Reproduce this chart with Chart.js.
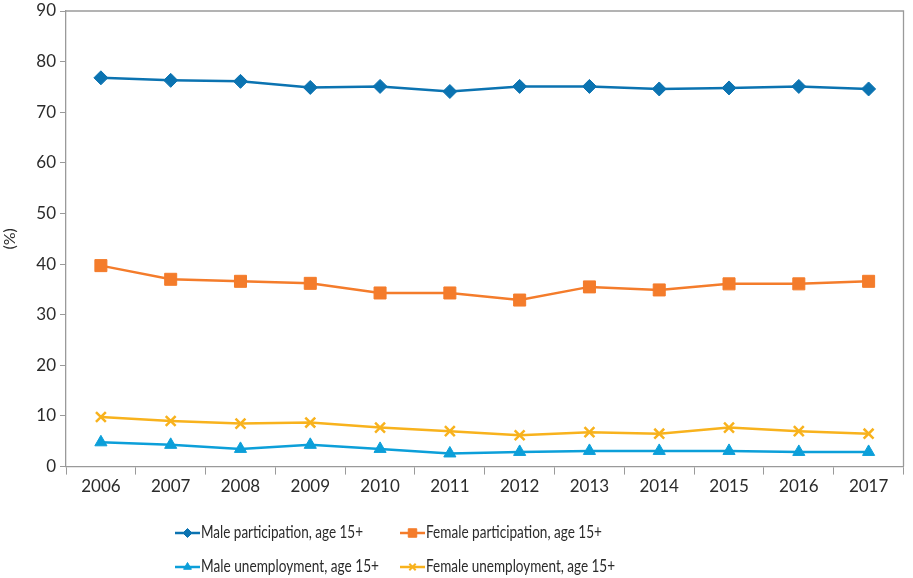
<!DOCTYPE html>
<html>
<head>
<meta charset="utf-8">
<script src="https://cdn.jsdelivr.net/npm/chart.js@4.4.0/dist/chart.umd.min.js"></script>
<style>
  html, body { margin: 0; padding: 0; background: #fff; }
  #wrap { width: 913px; height: 578px; }
</style>
</head>
<body>
<div id="wrap"><canvas id="grafik"></canvas></div>
<script>
// data
var tahun = ["2006", "2007", "2008", "2009", "2010", "2011", "2012", "2013", "2014", "2015", "2016", "2017"];
var male_participation = [76.8, 76.3, 76.1, 74.9, 75.1, 74.1, 75.1, 75.1, 74.6, 74.8, 75.1, 74.6];
var female_participation = [39.7, 37.0, 36.6, 36.2, 34.3, 34.3, 32.9, 35.5, 34.9, 36.1, 36.1, 36.6];
var male_unemployment = [4.8, 4.3, 3.5, 4.3, 3.5, 2.6, 2.9, 3.1, 3.1, 3.1, 2.9, 2.9];
var female_unemployment = [9.8, 9.0, 8.5, 8.7, 7.7, 7.0, 6.2, 6.8, 6.5, 7.7, 7.0, 6.5];
var y_ticks = [0, 10, 20, 30, 40, 50, 60, 70, 80, 90];

const FONT = "Lato, 'Open Sans', sans-serif";
const AXIS = "#9a9a9a";

function seri(label, data, warna, bentuk, r) {
  return {
    label: label,
    data: data,
    borderColor: warna,
    backgroundColor: warna,
    pointBackgroundColor: warna,
    pointBorderColor: warna,
    pointBorderWidth: bentuk === "crossRot" ? 2.5 : 1,
    pointStyle: bentuk,
    pointRadius: r,
    borderWidth: 2.5,
    tension: 0,
    fill: false,
  };
}

const data = {
  labels: tahun,
  datasets: [
    seri("Male participation, age 15+", male_participation, "#0b73b1", "rectRot", 7),
    seri("Female participation, age 15+", female_participation, "#f47c2b", "rect", 8.5),
    seri("Male unemployment, age 15+", male_unemployment, "#0c9fd9", "triangle", 7),
    seri("Female unemployment, age 15+", female_unemployment, "#f8b21d", "crossRot", 7),
  ],
};

// bingkai area plot + legenda manual 2 kolom
const pluginBingkai = {
  id: "bingkai",
  afterDraw(chart) {
    const ctx = chart.ctx;
    const a = chart.chartArea;
    ctx.save();
    ctx.strokeStyle = AXIS;
    ctx.lineWidth = 1.3;
    ctx.beginPath();
    ctx.moveTo(a.left, a.top);
    ctx.lineTo(a.right, a.top);
    ctx.lineTo(a.right, a.bottom);
    ctx.stroke();

    // posisi x, y, lebar teks maksimum (font di gambar asli lebih sempit)
    const posisi = [[175, 533, 162], [400, 533, 176], [175, 567, 178], [400, 567, 189]];
    chart.data.datasets.forEach(function (ds, i) {
      const x = posisi[i][0], y = posisi[i][1];
      ctx.strokeStyle = ds.borderColor;
      ctx.fillStyle = ds.borderColor;
      ctx.lineWidth = 2.5;
      ctx.beginPath();
      ctx.moveTo(x, y);
      ctx.lineTo(x + 25, y);
      ctx.stroke();
      ctx.lineWidth = ds.pointStyle === "crossRot" ? 2 : 1;
      Chart.helpers.drawPoint(ctx, {
        pointStyle: ds.pointStyle,
        radius: ds.pointStyle === "rect" ? 6 : 4.5,
        borderWidth: ds.pointStyle === "crossRot" ? 2 : 1,
        rotation: 0,
      }, x + 12.5, y);
      ctx.fillStyle = "#2b2b2b";
      ctx.font = "18px " + FONT;
      ctx.textBaseline = "middle";
      ctx.textAlign = "left";
      ctx.fillText(ds.label, x + 26, y - 1, posisi[i][2]);
    });
    ctx.restore();
  },
};

const config = {
  type: "line",
  data: data,
  options: {
    responsive: true,
    maintainAspectRatio: false,
    animation: false,
    layout: { padding: { top: 11, right: 1, bottom: 79, left: 0 } },
    plugins: {
      legend: { display: false },
      tooltip: { enabled: false },
    },
    scales: {
      x: {
        offset: true,
        grid: {
          display: true,
          offset: true,
          drawOnChartArea: false,
          drawTicks: true,
          tickLength: 8,
          color: AXIS,
        },
        border: { display: true, color: AXIS, width: 1.3 },
        ticks: { color: "#2b2b2b", font: { family: FONT, size: 17 }, padding: 2 },
      },
      y: {
        min: 0,
        max: 90,
        afterBuildTicks: function (axis) {
          axis.ticks = y_ticks.map(function (v) { return { value: v }; });
        },
        afterFit: function (axis) {
          axis.width = 66;
          axis.paddingTop = 0;
          axis.paddingBottom = 0;
        },
        grid: {
          display: true,
          drawOnChartArea: false,
          drawTicks: true,
          tickLength: 6,
          color: AXIS,
        },
        border: { display: true, color: AXIS, width: 1.3 },
        ticks: { color: "#2b2b2b", font: { family: FONT, size: 17 }, padding: 4 },
        title: {
          display: true,
          text: "(%)",
          color: "#2b2b2b",
          font: { family: FONT, size: 16 },
          padding: { top: 0, bottom: 4 },
        },
      },
    },
  },
  plugins: [pluginBingkai],
};

const grafik = document.getElementById("grafik").getContext("2d");
const grafik_garis = new Chart(grafik, config);
</script>
</body>
</html>
